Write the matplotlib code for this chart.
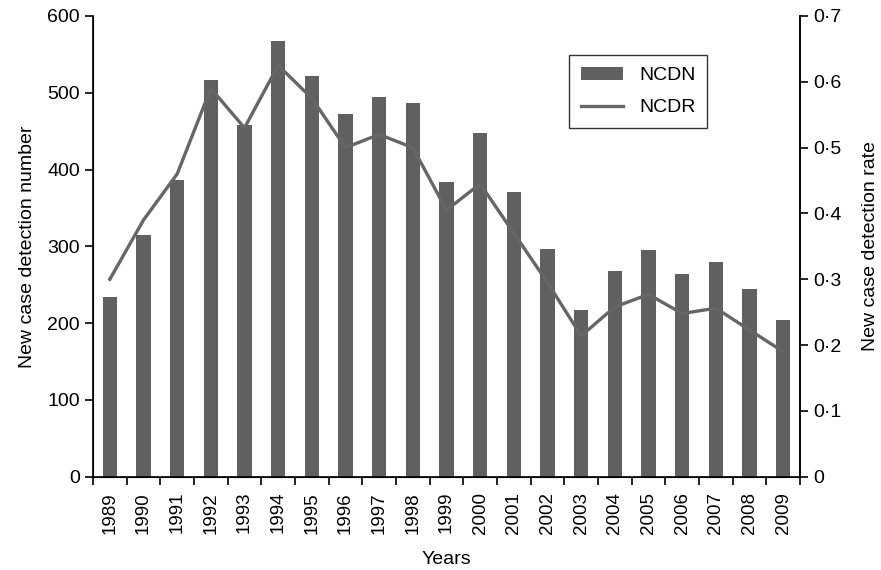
import matplotlib
matplotlib.use("Agg")
import matplotlib.pyplot as plt
from matplotlib.ticker import FuncFormatter, FixedLocator, NullFormatter
import numpy as np

plt.rcParams['font.family'] = ['Liberation Sans', 'DejaVu Sans']

years = [str(y) for y in range(1989, 2010)]
ncdn = [234, 315, 386, 516, 458, 568, 522, 472, 494, 487, 384, 447, 371, 297,
        217, 268, 295, 264, 279, 245, 204]
ncdr = [0.30, 0.39, 0.46, 0.59, 0.53, 0.625, 0.575, 0.50, 0.52, 0.50, 0.405,
        0.445, 0.37, 0.295, 0.214, 0.258, 0.277, 0.248, 0.256, 0.223, 0.19]

gray = '#606060'
fs = 14
fig = plt.figure(figsize=(8.81, 5.70), dpi=100)
ax = fig.add_axes([93/881, 1-476.7/570, (800-93)/881, (476.7-16)/570])
x = np.arange(len(years))
bars = ax.bar(x, ncdn, width=0.42, color=gray, label='NCDN', zorder=2)
ax.set_xlim(-0.5, len(years)-0.5)
ax.set_ylim(0, 600)
ax.set_yticks(range(0, 601, 100))
ax.set_xticks(x)
ax.set_xticklabels(years, rotation=90, fontsize=13.5)
ax.tick_params(axis='x', which='major', length=0, pad=11)
ax.xaxis.set_minor_locator(FixedLocator(np.arange(-0.5, len(years), 1.0)))
ax.xaxis.set_minor_formatter(NullFormatter())
ax.tick_params(axis='x', which='minor', length=6, width=1.2, direction='out')
ax.tick_params(axis='y', labelsize=fs, length=6, width=1.2)
ax.spines['top'].set_visible(False)
for s in ['left', 'bottom', 'right']:
    ax.spines[s].set_linewidth(1.2)
ax.set_ylabel('New case detection number', fontsize=fs, labelpad=8)
ax.set_xlabel('Years', fontsize=fs, labelpad=12)

ax2 = ax.twinx()
line, = ax2.plot(x, ncdr, color='#666666', lw=2.4, label='NCDR', zorder=3)
ax2.set_ylim(0, 0.7)
ax2.set_yticks(np.arange(0, 0.71, 0.1))
ax2.yaxis.set_major_formatter(FuncFormatter(lambda v, p: '0' if abs(v) < 1e-9 else f'{v:.1f}'.replace('.', '·')))
ax2.tick_params(axis='y', labelsize=fs, length=6, width=1.2)
ax2.spines['top'].set_visible(False)
ax2.spines['right'].set_linewidth(1.2)
ax2.set_ylabel('New case detection rate', fontsize=fs, labelpad=15)

leg = ax2.legend([bars, line], ['NCDN', 'NCDR'], loc='upper left',
                 bbox_to_anchor=((569-93)/707, 1-(55-16)/460.7), fontsize=fs,
                 frameon=True, fancybox=False, edgecolor='black',
                 handlelength=2.2, borderpad=0.6, labelspacing=0.75,
                 borderaxespad=0)
leg.get_frame().set_linewidth(1.0)

fig.savefig('out.png', dpi=100)
